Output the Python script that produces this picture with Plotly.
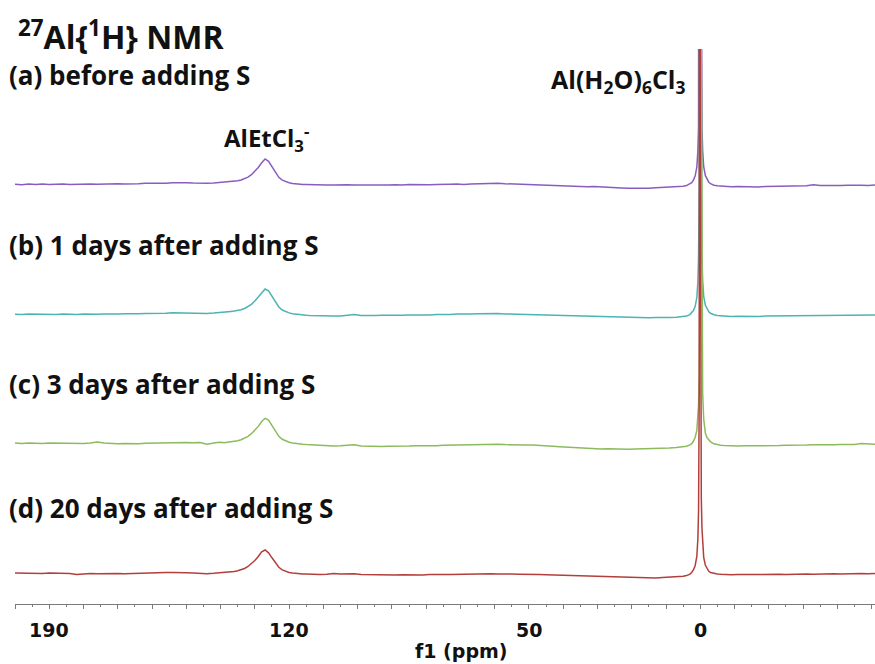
import plotly.graph_objects as go

# Chemical shift grid (ppm), shared by all four spectra
ppm = [200, 198, 196, 194, 192, 190, 188, 186, 184, 182,
       180, 178, 176, 174, 172, 170, 168, 166, 164, 162,
       160, 158, 156, 154, 152, 150, 148, 146, 144, 142,
       141, 140, 139, 138, 137, 136, 135, 134, 133, 132,
       131, 130, 129, 128, 127, 126, 125, 124, 123, 122,
       121, 120, 119, 118, 117, 116, 115, 114, 113,
       111, 109, 107, 105, 103, 101, 99, 97, 95, 93,
       91, 89, 87, 85, 83, 81, 79, 77, 75, 73,
       71, 69, 67, 65, 63, 61, 59, 57, 55, 53,
       51, 49, 47, 45, 43, 41, 39, 37, 35, 33,
       31, 29, 27, 25, 23, 21, 19, 17, 15, 13,
       11, 9,
       7, 6, 5, 4, 3, 2.5, 2, 1.5, 1, 0.7,
       0.5, 0.3, 0.15, 0, -0.15, -0.3, -0.5, -0.7, -1, -1.5,
       -2, -2.5, -3, -4, -5, -6, -7,
       -9, -11, -13, -15, -17, -19, -21, -23, -25, -27,
       -29, -31, -33, -35, -37, -39, -41, -43, -45, -47,
       -49, -51]

# (a) before adding S
int_a = [0.0, -0.4, 0.2, -0.2, 0.3, -0.3, 0.1, 0.4, -0.2, 0.2,
         -0.1, 0.3, 0.0, 0.4, 0.2, 0.6, 0.3, 0.8, 0.6, 1.0,
         0.9, 1.3, 1.1, 1.6, 1.9, 1.5, 1.2, 0.8, 1.1, 1.4,
         1.6, 1.9, 2.1, 2.3, 2.6, 3.0, 3.5, 4.3, 5.5, 7.2,
         9.6, 12.8, 16.8, 21.5, 25.3, 23.0, 17.5, 11.5, 7.0, 4.2,
         2.6, 1.6, 0.9, 0.4, 0.0, -0.2, -0.3, -0.5, -0.4,
         -0.5, -0.8, -0.6, -0.9, -0.5, -0.7, -1.0, -0.6, -0.8, -0.4,
         -0.7, -0.5, -0.8, -0.3, -0.6, -0.2, -0.5, -0.1, -0.4, 0.0,
         0.2, -0.1, 0.4, 0.7, 1.0, 0.8, 1.1, 0.6, 0.3, 0.1,
         -0.3, -0.2, -0.6, -0.9, -1.1, -1.5, -1.4, -1.9, -2.1, -2.4,
         -2.3, -2.8, -3.1, -3.3, -3.6, -3.9, -4.1, -3.8, -3.9, -3.4,
         -3.2, -3.0,
         -2.5, -2.3, -1.9, -1.3, 0.2, 1.7, 4.2, 8.2, 17.2, 33.2,
         57.2, 127, 397, 2497, 397, 127.5, 57.5, 33.6, 17.6, 8.6,
         4.6, 2.1, 0.6, -0.9, -1.5, -1.9, -2.1,
         -2.4, -2.1, -2.5, -2.2, -2.6, -2.2, -2.0, -2.3, -1.8, -1.9,
         -1.5, -1.4, -0.4, -1.3, -1.1, -1.5, -1.2, -1.0, -1.3, -0.9,
         -1.1, -0.8]

# (b) 1 day after adding S
int_b = [0.1, -0.3, 0.2, 0.0, -0.4, 0.1, -0.2, 0.3, 0.0, -0.3,
         0.2, -0.1, 0.1, 0.4, 0.0, 0.3, 0.5, 0.2, 0.6, 0.9,
         0.7, 1.2, 1.0, 1.5, 1.3, 1.6, 1.1, 0.7, 0.9, 1.2,
         1.4, 1.8, 2.3, 2.7, 2.9, 3.2, 3.7, 4.5, 5.8, 7.5,
         10.0, 13.2, 17.2, 22.0, 25.3, 23.5, 18.0, 12.0, 7.3, 4.3,
         2.5, 1.4, 0.6, 0.1, -0.3, -0.6, -0.9, -1.1, -1.3,
         -1.5, -1.4, -1.8, -1.6, -0.9, -0.2, -1.1, -1.4, -1.2, -1.0,
         -1.2, -0.9, -1.0, -0.6, -0.8, -0.5, -0.6, -0.2, -0.4, -0.1,
         0.2, 0.0, 0.4, 0.6, 0.8, 0.6, 0.7, 0.4, 0.2, 0.1,
         -0.1, -0.3, -0.5, -0.8, -1.1, -1.4, -1.6, -1.9, -2.0, -2.3,
         -2.5, -2.6, -2.9, -3.0, -3.2, -3.1, -3.4, -3.3, -3.5, -3.2,
         -3.4, -3.3,
         -3.0, -2.8, -2.4, -1.8, -0.3, 1.2, 3.7, 7.7, 16.7, 32.7,
         56.7, 127, 397, 2497, 398, 128, 58, 34, 18, 9,
         5, 2.5, 1.0, -0.5, -1.1, -1.5, -1.7,
         -2.1, -1.9, -2.2, -2.0, -2.1, -1.8, -1.7, -1.4, -1.3, -1.5,
         -1.2, -1.4, -1.1, -1.2, -0.9, -1.0, -1.1, -0.8, -0.9, -0.7,
         -0.8, -0.6]

# (c) 3 days after adding S
int_c = [0.2, -0.2, 0.3, 0.0, -0.3, 0.2, 0.1, -0.2, 0.3, 0.0,
         -0.1, 0.4, 1.3, 0.3, -0.2, -0.5, -0.3, -0.7, -0.4, 0.1,
         0.3, 0.6, 0.8, 1.1, 1.0, 0.9, 0.6, 0.8, -1.0, 0.5,
         0.7, 1.0, 0.6, 1.1, 1.4, 2.0, 2.6, 3.6, 5.0, 7.0,
         9.6, 12.8, 16.9, 21.8, 25.0, 23.2, 17.8, 11.8, 7.0, 4.0,
         2.2, 1.0, 0.2, -0.4, -0.8, -1.0, -1.3, -1.5, -1.8,
         -2.1, -2.4, -2.7, -2.5, -1.6, -1.4, -2.6, -3.0, -2.8, -3.1,
         -2.9, -3.0, -2.7, -2.8, -2.4, -2.6, -2.2, -2.4, -2.0, -1.8,
         -1.6, -1.3, -1.5, -1.0, -0.8, -1.1, -0.9, -1.3, -1.2, -1.5,
         -1.6, -1.8, -2.0, -2.4, -2.9, -3.4, -3.8, -4.3, -4.9, -5.3,
         -5.4, -5.6, -5.5, -5.8, -5.6, -5.9, -5.7, -5.6, -5.5, -5.3,
         -5.0, -4.8,
         -4.2, -4.0, -3.6, -3.0, -1.6, -0.3, 2.0, 5.8, 13.0, 24.0,
         38.0, 70, 150, 500, 2500, 400, 105, 50, 24, 10,
         5.5, 3.0, 1.5, -0.5, -1.5, -2.0, -2.3,
         -2.6, -2.8, -2.4, -2.5, -2.2, -2.4, -2.1, -2.3, -1.9, -2.0,
         -1.7, -1.8, -1.5, -1.7, -1.3, -1.5, -1.2, -1.4, -1.1, -0.2,
         -0.9, -1.0]

# (d) 20 days after adding S
int_d = [0.2, 0.0, 0.3, 0.1, -0.1, 0.3, 0.0, 0.2, -0.2, -1.3,
         -0.4, -0.1, -0.4, -0.2, -0.5, -0.2, -0.4, -0.1, -0.3, 0.1,
         0.2, 0.5, 0.8, 0.7, 0.9, 0.5, 0.2, -0.2, -0.4, 0.0,
         0.3, 0.0, 0.5, 1.0, 1.3, 1.8, 2.5, 3.4, 4.8, 6.8,
         9.5, 12.8, 16.8, 21.5, 23.3, 20.5, 15.5, 10.2, 6.0, 3.4,
         1.8, 0.8, 0.2, -0.3, -0.5, -0.7, -0.6, -0.9, -1.1,
         -1.2, -0.9, -0.2, -0.8, -0.5, -0.4, -1.1, -1.3, -1.2, -1.5,
         -1.6, -1.8, -1.5, -1.7, -1.4, -1.6, -1.3, -1.5, -1.2, -1.1,
         -0.9, -1.0, -0.7, -0.8, -0.6, -0.5, -0.8, -0.4, -0.7, -0.9,
         -0.8, -1.1, -1.3, -1.5, -1.7, -1.9, -2.1, -2.3, -2.5, -2.7,
         -2.9, -3.0, -3.2, -3.3, -3.6, -3.8, -4.2, -4.6, -5.0, -4.7,
         -4.2, -4.0,
         -3.5, -3.3, -2.9, -2.3, -0.8, 0.8, 3.4, 7.6, 17, 34,
         62, 180, 2500, 450, 150, 75, 45, 30, 16, 8,
         4.2, 2.0, 0.8, -0.2, -0.7, -1.0, -1.2,
         -1.4, -1.2, -1.5, -1.1, -1.3, -1.0, -1.2, -0.9, -1.1, -0.8,
         -1.0, -0.7, -0.9, -0.6, -0.8, -0.5, -0.7, -0.4, -0.6, -0.3,
         -0.5, -0.3]

sample_labels = ["(a) before adding S", "(b) 1 days after adding S",
                 "(c) 3 days after adding S", "(d) 20 days after adding S"]
tick_labels = [190, 120, 50, 0]

# stacking: vertical offset of each trace's baseline
offsets = [419.7, 289.7, 160.7, 30.7]
colors = ["#8a5cc0", "#4db3b3", "#8cbb5e", "#b23f3c"]
series = [int_a, int_b, int_c, int_d]

W, H = 875, 664
ML, MR, MT, MB = 15, 0, 49, 60
PW, PH = W - ML - MR, H - MT - MB


def px(xp):
    return (xp - ML) / PW


def py(yp):
    return (H - MB - yp) / PH


fig = go.Figure()
for vals, off, col, name in zip(series, offsets, colors, sample_labels):
    fig.add_trace(go.Scatter(
        x=ppm, y=[v + off for v in vals], mode="lines", name=name,
        line=dict(color=col, width=1.5), hoverinfo="skip", showlegend=False))

axis_gray = "#7a7a7a"
fig.update_xaxes(
    range=[200, -51], showgrid=False, zeroline=False,
    showline=True, linecolor=axis_gray, linewidth=1,
    ticks="outside", ticklen=4, tickcolor=axis_gray, tickwidth=1,
    tickmode="linear", tick0=0, dtick=10, showticklabels=False,
    minor=dict(tickmode="linear", tick0=0, dtick=5, ticks="outside",
               ticklen=2, tickcolor=axis_gray),
)
fig.update_yaxes(range=[0, PH], visible=False)

ui = "Open Sans"
num_font = dict(family="DejaVu Sans", size=19, color="#111")
ann = []
# tick labels on the ppm scale
for v in tick_labels:
    ann.append(dict(text="<b>%d</b>" % v, x=v, xref="x", y=py(630), yref="paper",
                    xanchor="center", yanchor="middle", font=num_font))
ann.append(dict(text="<b><sup>27</sup>Al{<sup>1</sup>H} NMR</b>", x=px(16), y=py(35),
                xanchor="left", yanchor="middle", font=dict(family=ui, size=32, color="#111")))
label_y = [75, 245, 384, 508]
for lab, yy in zip(sample_labels, label_y):
    ann.append(dict(text="<b>" + lab + "</b>", x=px(7), y=py(yy),
                    xanchor="left", yanchor="middle",
                    font=dict(family=ui, size=26, color="#111")))
ann.append(dict(text="<b>AlEtCl<sub>3</sub><sup>-</sup></b>", x=px(266), y=py(138),
                xanchor="center", yanchor="middle", font=dict(family=ui, size=24, color="#111")))
ann.append(dict(text="<b>Al(H<sub>2</sub>O)<sub>6</sub>Cl<sub>3</sub></b>", x=px(618), y=py(80),
                xanchor="center", yanchor="middle", font=dict(family=ui, size=25, color="#111")))
ann.append(dict(text="<b>f1 (ppm)</b>", x=px(461), y=py(651),
                xanchor="center", yanchor="middle", font=num_font))
for a in ann:
    a.setdefault("xref", "paper")
    a.setdefault("yref", "paper")
    a["showarrow"] = False

fig.update_layout(
    width=W, height=H, margin=dict(l=ML, r=MR, t=MT, b=MB),
    paper_bgcolor="white", plot_bgcolor="white", annotations=ann,
)
fig.write_html("out.html")
